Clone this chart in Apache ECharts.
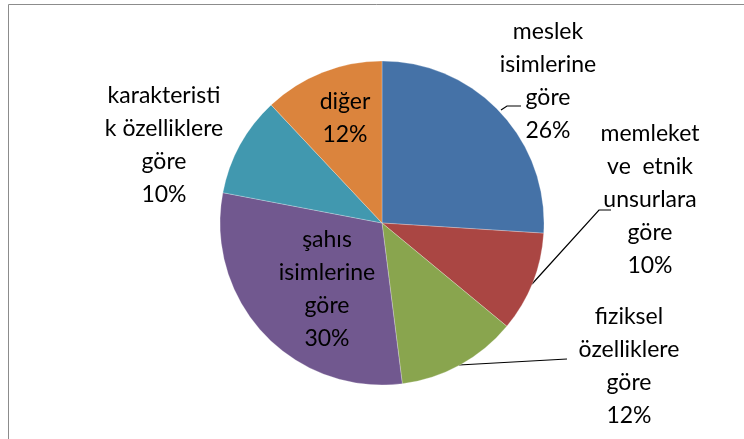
<!DOCTYPE html>
<html>
<head>
<meta charset="utf-8">
<script src="https://cdn.jsdelivr.net/npm/echarts@6/dist/echarts.min.js"></script>
<style>
  html, body { margin: 0; padding: 0; background: #fff; }
  #chart { width: 744px; height: 439px; }
</style>
</head>
<body>
<div id="chart"></div>
<script>
// categories (label text as broken in the original) and shares in %
const categories = [
  "meslek\nisimlerine\ngöre",
  "memleket\nve  etnik\nunsurlara\ngöre",
  "fiziksel\nözelliklere\ngöre",
  "şahıs\nisimlerine\ngöre",
  "karakteristi\nk özelliklere\ngöre",
  "diğer"
];
const values = [26, 10, 12, 30, 10, 12];
const colors = ["#4572A7", "#AA4643", "#89A54E", "#71588F", "#4198AF", "#DB843D"];

// where each data label sits, and its leader line (null = no line)
const labelPlace = [
  { x: 548, y: 81, line: [[501, 110], [507, 106], [521, 106]] },
  { x: 650, y: 200, line: [[532, 284], [599, 210], [611, 210]] },
  { x: 629, y: 366, line: [[459, 365], [567, 359]] },
  { x: 327, y: 289, line: null },
  { x: 164, y: 145, line: null },
  { x: 345, y: 118, line: null }
];

const chart = echarts.init(document.getElementById("chart"));

const option = {
  animation: false,
  color: colors,
  graphic: [
    {
      type: "rect",
      shape: { x: 8.5, y: 4.5, width: 800, height: 500 },
      style: { fill: "none", stroke: "#8c8c8c", lineWidth: 1 },
      silent: true
    }
  ],
  series: [
    {
      type: "pie",
      center: [382, 223],
      radius: 162,
      startAngle: 90,
      clockwise: true,
      avoidLabelOverlap: false,
      itemStyle: { borderColor: "rgba(255,255,255,0.5)", borderWidth: 0.5 },
      label: {
        show: true,
        formatter: "{b}\n{d}%",
        color: "#000",
        fontFamily: "Lato",
        fontSize: 23,
        lineHeight: 33,
        align: "center"
      },
      labelLine: {
        show: true,
        lineStyle: { color: "#000", width: 1.2 }
      },
      labelLayout: function (params) {
        const p = labelPlace[params.dataIndex];
        const res = { x: p.x, y: p.y, align: "center", verticalAlign: "middle" };
        if (p.line) res.labelLinePoints = p.line;
        return res;
      },
      data: categories.map(function (name, i) {
        const item = { name: name, value: values[i] };
        if (!labelPlace[i].line) item.labelLine = { show: false };
        return item;
      })
    }
  ]
};

chart.setOption(option);
window.addEventListener("resize", function () {
  chart.resize();
});
</script>
</body>
</html>
